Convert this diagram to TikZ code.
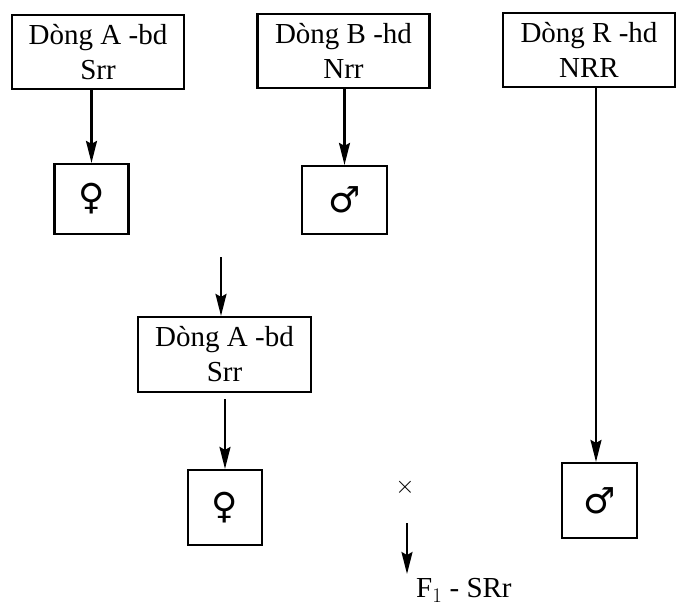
\documentclass[tikz,border=0pt]{standalone}
\usepackage{fontspec}
\setmainfont{Liberation Serif}
\newfontfamily\symfont{DejaVu Sans}
\usetikzlibrary{arrows.meta}
\begin{document}
\begin{tikzpicture}[x=1pt,y=-1pt,
  linebox/.style={draw,line width=2.2pt,minimum width=172pt,minimum height=74pt,
    align=center,font=\fontsize{29}{35}\selectfont,inner sep=0pt},
  sexbox/.style={draw,line width=2.2pt,minimum width=74pt,minimum height=72pt,
    font=\symfont\fontsize{36}{38}\selectfont,inner sep=0pt},
  conn/.style={line width=2.2pt,-{Stealth[length=22pt,width=11pt,inset=3pt]}}]
\useasboundingbox (0,0) rectangle (677,611);

% parental lines
\node[linebox] (A1) at (98,52) {Dòng A -bd\\Srr};
\node[linebox] (B)  at (343.5,51) {Dòng B -hd\\Nrr};
\node[linebox] (R)  at (589,50) {Dòng R -hd\\NRR};

% sexes of the first cross
\node[sexbox,minimum height=70pt] (F1) at (91.5,199) {♀};
\node[sexbox,minimum width=85pt,minimum height=68pt] (M1) at (344.5,200) {♂};

% single-cross female line
\node[linebox,minimum width=173pt,minimum height=75pt] (A2) at (224.5,354.5) {Dòng A -bd\\Srr};
\node[sexbox,minimum height=75pt] (F2) at (225,507.5) {♀};
\node[sexbox,minimum width=75pt,minimum height=75pt] (M2) at (599.5,500.5) {♂};

% cross mark and offspring
\node[font=\fontsize{26}{28}\selectfont] (X) at (405,487) {$\times$};
\node[font=\fontsize{29}{32}\selectfont,anchor=north west,inner sep=0pt] (Fone) at (416,578) {F$_1$ - SRr};

\coordinate (inA2) at (221,257);
\coordinate (outX) at (407,523);
\coordinate (toF) at (407,574);
\coordinate (Rstart) at (596,87);

\draw[conn] (A1.south -| F1.north) -- (F1.north);
\draw[conn] (B.south -| M1.north) -- (M1.north);
\draw[conn] (inA2) -- (inA2 |- A2.north);
\draw[conn,shorten <=6pt] (A2.south -| F2.north) -- (F2.north);
\draw[conn] (Rstart) -- (Rstart |- M2.north);
\draw[conn] (outX) -- (toF);
\end{tikzpicture}
\end{document}
